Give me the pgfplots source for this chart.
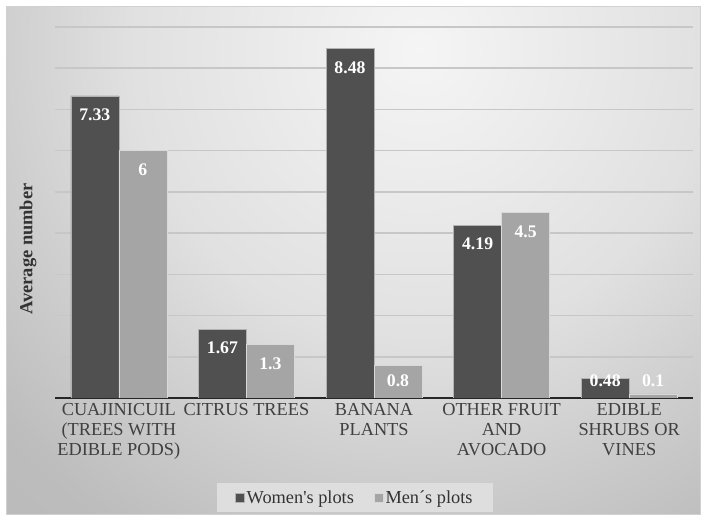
\documentclass[border=0pt]{standalone}
\usepackage{pgfplots}
\pgfplotsset{compat=1.18}
\usepackage{fontspec}
\setmainfont{Liberation Serif}
\pgfdeclareradialshading{bgshade}{\pgfpoint{0bp}{0bp}}{%
  color(0bp)=(black!4); color(290bp)=(black!12); color(420bp)=(black!19); color(560bp)=(black!26); color(700bp)=(black!28)}
\definecolor{womenc}{HTML}{505050}
\definecolor{menc}{HTML}{A5A5A5}
\begin{document}
\begin{tikzpicture}[x=1bp,y=1bp]
\path[use as bounding box] (0,0) rectangle (702,522);
\begin{scope}
\clip (6,7) rectangle (700,515);
\node[inner sep=0pt, outer sep=0pt] at (420,472) {\pgfuseshading{bgshade}};
\end{scope}
\draw[black!18, line width=1bp] (6,7) rectangle (700,515);
\begin{axis}[
  at={(55bp,124bp)}, anchor=south west,
  scale only axis, width=638bp, height=371bp,
  ymin=0, ymax=9, xmin=-0.5, xmax=4.5,
  ybar=0pt, bar width=48bp,
  axis line style={draw=none},
  ytick={1,...,9}, yticklabels={},
  ymajorgrids, grid style={draw=black!22, line width=1.5bp},
  major tick length=0pt,
  extra y ticks={0}, extra y tick labels={},
  extra y tick style={grid style={draw=black!85, line width=2bp}},
  xtick={0,...,4},
  xticklabels={{CUAJINICUIL\\(TREES WITH\\EDIBLE PODS)},{CITRUS TREES},{BANANA\\PLANTS},{OTHER FRUIT\\AND\\AVOCADO},{EDIBLE\\SHRUBS OR\\VINES}},
  xticklabel style={align=center, font=\fontsize{18.4}{20}\selectfont, text=black!75, yshift=-2bp},
  ylabel={\textbf{Average number}},
  ylabel style={font=\fontsize{18.5}{20}\selectfont, text=black!80},
  every axis y label/.append style={at={(-27bp,149bp)}, anchor=center},
  point meta=explicit symbolic,
  nodes near coords,
  visualization depends on={y \as \rawy},
  every node near coord/.append style={font=\bfseries\fontsize{17.8}{20}\selectfont, text=white, anchor=center,
     yshift={ifthenelse(\rawy<1,(0.41-\rawy)*41.2,-19)}},
  legend columns=2,
  legend style={at={(0.47,-0.268)}, anchor=center, fill=black!13, draw=none,
     font=\fontsize{18.4}{20}\selectfont, text=black!80, inner xsep=18bp, inner ysep=5bp,
     /tikz/every even column/.append style={column sep=18bp}},
  legend image code/.code={\fill[#1] (0bp,-4.5bp) rectangle (9bp,4.5bp);},
]
\addplot[fill=womenc, draw=black!30, line width=0.6bp] coordinates {(0,7.33) [7.33] (1,1.67) [1.67] (2,8.48) [8.48] (3,4.19) [4.19] (4,0.48) [0.48]};
\addplot[fill=menc, draw=black!15, line width=0.6bp] coordinates {(0,6) [6] (1,1.3) [1.3] (2,0.8) [0.8] (3,4.5) [4.5] (4,0.1) [0.1]};
\legend{Women\textquotesingle s plots, Men´s plots}
\end{axis}
\end{tikzpicture}
\end{document}
